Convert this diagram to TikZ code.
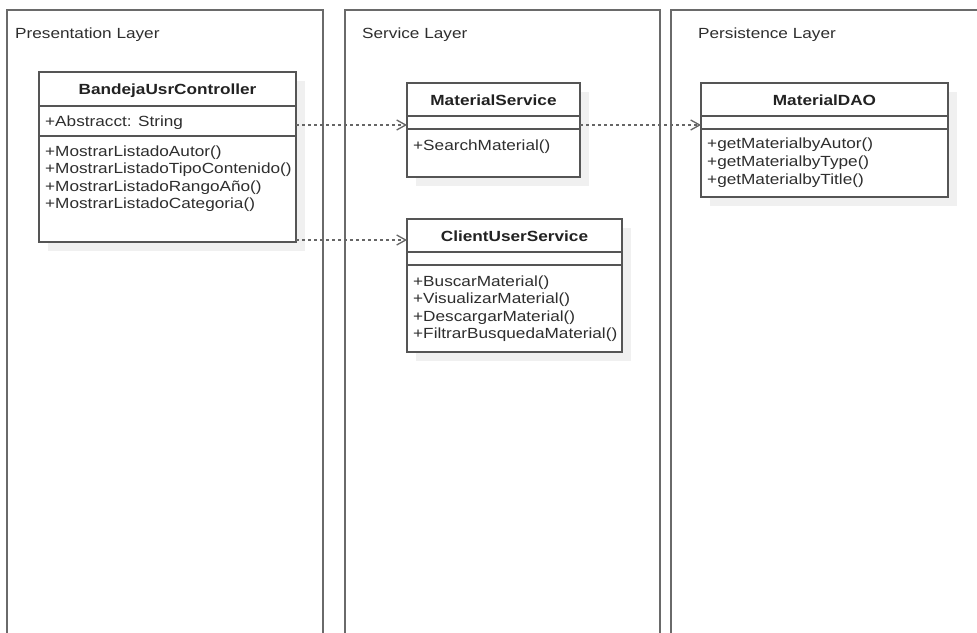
\documentclass[tikz,border=0pt]{standalone}
\usepackage{fontspec}
\setmainfont{Liberation Sans}[FakeStretch=1.17]
\usetikzlibrary{arrows.meta}
\definecolor{panelgray}{HTML}{6A6A6A}
\definecolor{boxgray}{HTML}{555555}
\definecolor{shadowgray}{HTML}{F0F0F0}
\definecolor{txt}{HTML}{2E2E2E}
\definecolor{ttl}{HTML}{222222}
\definecolor{arrowgray}{HTML}{666666}
\tikzset{
  panel/.style={draw=panelgray, line width=1.3pt},
  shadowfill/.style={fill=shadowgray, draw=none},
  classbox/.style={draw=boxgray, line width=1.3pt, fill=white, inner sep=0pt, outer sep=0pt, anchor=north west},
  divider/.style={draw=boxgray, line width=1.3pt},
  classtitle/.style={font=\bfseries\fontsize{14.7}{17.5}\selectfont, text=ttl, inner sep=0pt, anchor=base},
  member/.style={font=\fontsize{14.7}{17.5}\selectfont, text=txt, inner sep=0pt, anchor=base west},
  layerlabel/.style={font=\fontsize{14.7}{17.5}\selectfont, text=txt, inner sep=0pt, anchor=base west},
  dep/.style={draw=arrowgray, line width=1.3pt, dash pattern=on 3pt off 3pt,
    -{Straight Barb[length=9pt,width=10pt,line width=1.3pt]}}
}
\begin{document}
\begin{tikzpicture}[x=1pt,y=-1pt]
\useasboundingbox (0,0) rectangle (977,632);
% layers
\draw[panel] (7,650) -- (7,10) -- (323,10) -- (323,650);
\draw[panel] (345,650) -- (345,10) -- (660,10) -- (660,650);
\draw[panel] (671,650) -- (671,10) -- (990,10);
\node[layerlabel] (lp) at (15,38) {Presentation Layer};
\node[layerlabel] (ls) at (362,38) {Service Layer};
\node[layerlabel] (lpe) at (698,38) {Persistence Layer};
% shadows
\fill[shadowfill] (48,81) rectangle (305,251);
\fill[shadowfill] (416,92) rectangle (589,186);
\fill[shadowfill] (416,228) rectangle (631,361);
\fill[shadowfill] (710,92) rectangle (957,206);
% BandejaUsrController
\node[classbox, minimum width=257pt, minimum height=170pt] (bandeja) at (39,72) {};
\draw[divider] (39,106) -- (296,106);
\draw[divider] (39,136) -- (296,136);
\node[classtitle] (bt) at (167.5,94.5) {BandejaUsrController};
\node[member] (ba) at (45,126) {+Abstracct: String};
\node[member] (bm1) at (45,156) {+MostrarListadoAutor()};
\node[member] (bm2) at (45,173.5) {+MostrarListadoTipoContenido()};
\node[member] (bm3) at (45,191) {+MostrarListadoRangoAño()};
\node[member] (bm4) at (45,208.5) {+MostrarListadoCategoria()};
% MaterialService
\node[classbox, minimum width=173pt, minimum height=94pt] (msvc) at (407,83) {};
\draw[divider] (407,116) -- (580,116);
\draw[divider] (407,129) -- (580,129);
\node[classtitle] (mt) at (493.5,105) {MaterialService};
\node[member] (mm1) at (413,150) {+SearchMaterial()};
% ClientUserService
\node[classbox, minimum width=215pt, minimum height=133pt] (cus) at (407,219) {};
\draw[divider] (407,252) -- (622,252);
\draw[divider] (407,265) -- (622,265);
\node[classtitle] (ct) at (514.5,241) {ClientUserService};
\node[member] (cm1) at (413,286) {+BuscarMaterial()};
\node[member] (cm2) at (413,303.5) {+VisualizarMaterial()};
\node[member] (cm3) at (413,321) {+DescargarMaterial()};
\node[member] (cm4) at (413,338.5) {+FiltrarBusquedaMaterial()};
% MaterialDAO
\node[classbox, minimum width=247pt, minimum height=114pt] (dao) at (701,83) {};
\draw[divider] (701,116) -- (948,116);
\draw[divider] (701,129) -- (948,129);
\node[classtitle] (dt) at (824.5,105) {MaterialDAO};
\node[member] (dm1) at (707,148.5) {+getMaterialbyAutor()};
\node[member] (dm2) at (707,166.5) {+getMaterialbyType()};
\node[member] (dm3) at (707,184.5) {+getMaterialbyTitle()};
% connectors
\coordinate (r1) at (0,125);
\coordinate (r3) at (0,240);
\draw[dep] (bandeja.east |- r1) -- (msvc.west |- r1);
\draw[dep] (msvc.east |- r1) -- (dao.west |- r1);
\draw[dep] (bandeja.east |- r3) -- (cus.west |- r3);
\end{tikzpicture}
\end{document}
